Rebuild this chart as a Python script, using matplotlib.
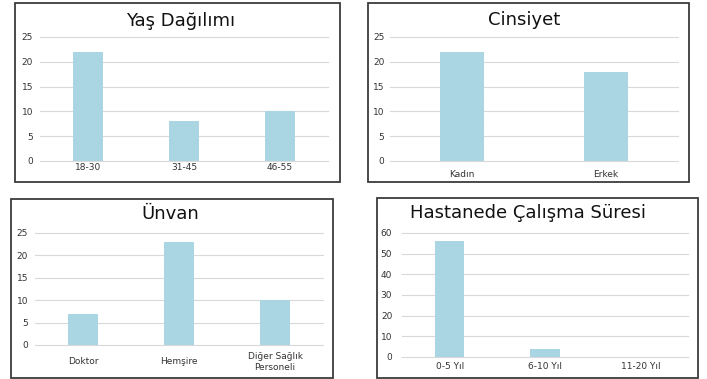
import matplotlib
matplotlib.use("Agg")
import matplotlib.pyplot as plt
from matplotlib.patches import Rectangle

# Survey demographics
age_groups = ["18-30", "31-45", "46-55"]
age_counts = [22, 8, 10]

genders = ["Kadın", "Erkek"]
gender_counts = [22, 18]

titles = ["Doktor", "Hemşire", "Diğer Sağlık\nPersoneli"]
title_counts = [7, 23, 10]

tenure_groups = ["0-5 Yıl", "6-10 Yıl", "11-20 Yıl"]
tenure_counts = [56, 4, 0]

W, H = 707, 379
fig = plt.figure(figsize=(W / 100, H / 100), dpi=100)
fig.patch.set_facecolor("white")

BAR = "#A9D6E2"
GRID = "#D9D9D9"
TXT = "#333333"


def fx(x):
    return x / W


def fy(y):
    return 1 - y / H


def panel(box, axrect, title, title_xy, cats, vals, ymax, ystep,
          xpad, ypad, bar_w):
    x0, y0, x1, y1 = box
    fig.patches.append(Rectangle((fx(x0), fy(y1)), fx(x1 - x0), (y1 - y0) / H,
                                 transform=fig.transFigure, fill=False,
                                 edgecolor="#3c3c3c", linewidth=1.3))
    fig.text(fx(title_xy[0]), fy(title_xy[1]), title, ha="center", va="center",
             fontsize=13, color="#111111")
    ax0, ay0, ax1, ay1 = axrect
    ax = fig.add_axes([fx(ax0), fy(ay1), fx(ax1 - ax0), (ay1 - ay0) / H])
    ax.set_facecolor("none")
    pos = range(len(cats))
    ax.bar(pos, vals, width=bar_w, color=BAR, zorder=2)
    ax.set_xlim(-0.5, len(cats) - 0.5)
    ax.set_ylim(0, ymax)
    ax.set_yticks(range(0, ymax + 1, ystep))
    ax.grid(axis="y", color=GRID, linewidth=0.8, zorder=0)
    for gl in ax.get_ygridlines():
        gl.set_clip_on(False)
    for s in ax.spines.values():
        s.set_visible(False)
    ax.set_xticks(list(pos))
    ax.set_xticklabels(cats, fontsize=6.5, color=TXT, linespacing=1.3)
    for lbl in ax.get_xticklabels():
        lbl.set_verticalalignment("center")
    ax.tick_params(axis="x", length=0, pad=xpad)
    ax.tick_params(axis="y", length=0, pad=ypad, labelsize=6.5, labelcolor=TXT)
    return ax


panel((15, 3, 340, 182), (40, 37, 328, 161), "Yaş Dağılımı", (181, 21),
      age_groups, age_counts, 25, 5, 5, 5, 0.31)
panel((368, 3, 689, 182), (390, 37, 678, 161), "Cinsiyet", (524, 20),
      genders, gender_counts, 25, 5, 10, 4, 0.31)
panel((11, 199, 333, 378), (35, 233, 323, 345), "Ünvan", (170, 214),
      titles, title_counts, 25, 5, 12, 5, 0.31)
panel((377, 198, 698, 378), (402, 233, 688, 357), "Hastanede Çalışma Süresi",
      (528, 213), tenure_groups, tenure_counts, 60, 10, 7, 7, 0.31)

fig.savefig("out.png", dpi=100)
